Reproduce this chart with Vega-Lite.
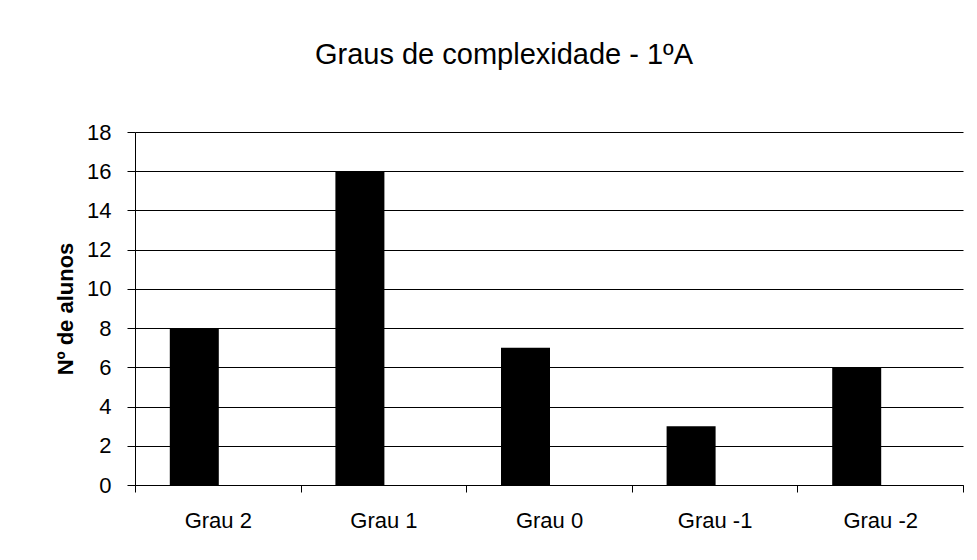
{
  "$schema": "https://vega.github.io/schema/vega-lite/v6.json",
  "autosize": "none",
  "width": 828,
  "height": 353,
  "padding": {"left": 135, "top": 132, "right": 14, "bottom": 75},
  "background": "white",
  "title": {
    "text": "Graus de complexidade - 1ºA",
    "font": "Liberation Sans",
    "fontSize": 29,
    "fontWeight": "normal",
    "color": "black",
    "anchor": "middle",
    "frame": "group",
    "baseline": "alphabetic",
    "offset": 28,
    "dx": -45
  },
  "data": {
    "values": [
      {"grau": "Grau 2", "alunos": 8},
      {"grau": "Grau 1", "alunos": 16},
      {"grau": "Grau 0", "alunos": 7},
      {"grau": "Grau -1", "alunos": 3},
      {"grau": "Grau -2", "alunos": 6}
    ]
  },
  "mark": {"type": "bar", "color": "black", "width": 49, "xOffset": -23.5},
  "encoding": {
    "x": {
      "field": "grau",
      "type": "nominal",
      "sort": null,
      "scale": {"paddingInner": 0, "paddingOuter": 0},
      "axis": {
        "title": null,
        "labelAngle": 0,
        "tickBand": "extent",
        "tickSize": 7,
        "tickColor": "black",
        "domainColor": "black",
        "labelFont": "Liberation Sans",
        "labelFontSize": 22,
        "labelColor": "black",
        "labelPadding": 18,
        "grid": false
      }
    },
    "y": {
      "field": "alunos",
      "type": "quantitative",
      "scale": {"domain": [0, 18]},
      "axis": {
        "title": "Nº de alunos",
        "titleFont": "Liberation Sans",
        "titleFontSize": 22,
        "titleFontWeight": "bold",
        "titleColor": "black",
        "titleX": -63,
        "titleBaseline": "alphabetic",
        "values": [0, 2, 4, 6, 8, 10, 12, 14, 16, 18],
        "tickSize": 8,
        "tickColor": "black",
        "domainColor": "black",
        "gridColor": "black",
        "gridOpacity": 1,
        "labelFont": "Liberation Sans",
        "labelFontSize": 22,
        "labelColor": "black",
        "labelPadding": 16
      }
    }
  },
  "config": {
    "view": {"stroke": null}
  }
}
